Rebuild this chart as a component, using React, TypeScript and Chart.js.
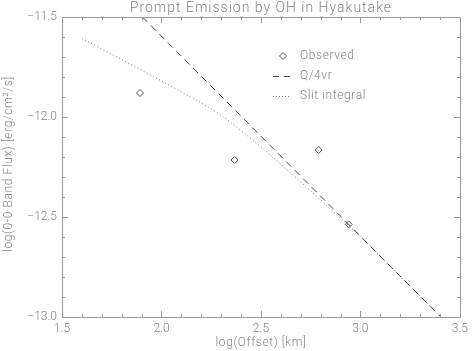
import React, { useEffect, useRef } from "react";
import { Chart, registerables } from "chart.js";

Chart.register(...registerables);

const observedX = [1.892, 2.367, 2.79, 2.941];
const observedY = [-11.88, -12.215, -12.165, -12.537];

const q4vrX = [1.904, 3.404];
const q4vrY = [-11.5, -13.0];

const slitX = [1.6, 1.7, 1.8, 1.9, 2.0, 2.1, 2.2, 2.3, 2.4, 2.5, 2.6, 2.7, 2.8, 2.9, 3.0, 3.2, 3.4];
const slitY = [-11.607, -11.66, -11.713, -11.766, -11.82, -11.874, -11.93, -11.992, -12.068, -12.15, -12.236, -12.325, -12.415, -12.506, -12.598, -12.797, -12.996];

const xMajorTicks = [1.5, 2.0, 2.5, 3.0, 3.5];
const yMajorTicks = [-11.5, -12.0, -12.5, -13.0];

const TITLE = "Prompt Emission by OH in Hyakutake";
const X_LABEL = "log(Offset) [km]";
const Y_LABEL = "log(0-0 Band Flux) [erg/cm\u00b2/s]";
const LEGEND_LABELS = ["Observed", "Q/4vr", "Slit integral"];

const FONT = "Roboto, 'Liberation Sans', Arial, sans-serif";
const TEXT_COLOR = "#858585";
const AXIS_COLOR = "#9a9a9a";

const toPts = (xs: number[], ys: number[]) => xs.map((x, i) => ({ x, y: ys[i] }));

const decorPlugin = {
  id: "decor",
  afterDraw(chart: any) {
    const ctx = chart.ctx as any;
    const { left, right, top, bottom } = chart.chartArea;
    const xs = chart.scales.x;
    const ys = chart.scales.y;
    ctx.save();
    // frame
    ctx.strokeStyle = AXIS_COLOR;
    ctx.lineWidth = 1;
    ctx.strokeRect(Math.round(left) + 0.5, Math.round(top) + 0.5, Math.round(right - left), Math.round(bottom - top));
    // ticks
    ctx.beginPath();
    for (let i = 0; i <= 20; i++) {
      const v = 1.5 + i * 0.1;
      const px = Math.round(xs.getPixelForValue(v)) + 0.5;
      const len = i % 5 === 0 ? 6 : 3;
      ctx.moveTo(px, bottom);
      ctx.lineTo(px, bottom - len);
      ctx.moveTo(px, top);
      ctx.lineTo(px, top + len);
    }
    for (let i = 0; i <= 15; i++) {
      const v = -11.5 - i * 0.1;
      const py = Math.round(ys.getPixelForValue(v)) + 0.5;
      const len = i % 5 === 0 ? 6 : 3;
      ctx.moveTo(left, py);
      ctx.lineTo(left + len, py);
      ctx.moveTo(right, py);
      ctx.lineTo(right - len, py);
    }
    ctx.stroke();

    // title
    ctx.fillStyle = TEXT_COLOR;
    ctx.letterSpacing = "1px";
    ctx.font = `300 14px ${FONT}`;
    ctx.textAlign = "center";
    ctx.textBaseline = "middle";
    ctx.fillText(TITLE, (left + right) / 2, 8);
    // x label
    ctx.letterSpacing = "0.6px";
    ctx.font = `300 12px ${FONT}`;
    ctx.fillText(X_LABEL, (left + right) / 2, 343);
    // y label
    ctx.save();
    ctx.translate(9, 164);
    ctx.rotate(-Math.PI / 2);
    ctx.fillText(Y_LABEL, 0, 0);
    ctx.restore();

    // legend
    const lx = 273;
    const lx2 = 291;
    const tx = 300;
    const rows = [56, 76, 96];
    ctx.textAlign = "left";
    const ds = chart.data.datasets;
    ctx.strokeStyle = ds[0].borderColor;
    ctx.lineWidth = 1;
    ctx.beginPath();
    const cx = 283, cy = rows[0], r = 3.5;
    ctx.moveTo(cx, cy - r);
    ctx.lineTo(cx + r, cy);
    ctx.lineTo(cx, cy + r);
    ctx.lineTo(cx - r, cy);
    ctx.closePath();
    ctx.stroke();
    ctx.strokeStyle = ds[1].borderColor;
    ctx.setLineDash([6, 5]);
    ctx.beginPath();
    ctx.moveTo(lx, rows[1] + 0.5);
    ctx.lineTo(lx2, rows[1] + 0.5);
    ctx.stroke();
    ctx.strokeStyle = ds[2].borderColor;
    ctx.setLineDash([1, 2]);
    ctx.beginPath();
    ctx.moveTo(lx, rows[2] + 0.5);
    ctx.lineTo(lx2, rows[2] + 0.5);
    ctx.stroke();
    ctx.setLineDash([]);
    ctx.fillStyle = TEXT_COLOR;
    LEGEND_LABELS.forEach((t, i) => ctx.fillText(t, tx, rows[i]));
    ctx.restore();
  },
};

export default function App() {
  const ref = useRef<HTMLCanvasElement | null>(null);
  useEffect(() => {
    document.body.style.margin = "0";
    const chart = new Chart(ref.current as HTMLCanvasElement, {
      type: "scatter",
      data: {
        datasets: [
          {
            label: LEGEND_LABELS[0],
            data: toPts(observedX, observedY),
            showLine: false,
            pointStyle: "rectRot",
            pointRadius: 3.5,
            borderColor: "#555555",
            backgroundColor: "rgba(0,0,0,0)",
            borderWidth: 1,
          },
          {
            label: LEGEND_LABELS[1],
            data: toPts(q4vrX, q4vrY),
            showLine: true,
            pointRadius: 0,
            borderColor: "#444444",
            borderWidth: 1,
            borderDash: [7, 5],
          },
          {
            label: LEGEND_LABELS[2],
            data: toPts(slitX, slitY),
            showLine: true,
            pointRadius: 0,
            borderColor: "#777777",
            borderWidth: 1,
            borderDash: [1, 2.5],
            cubicInterpolationMode: "monotone",
          },
        ],
      },
      options: {
        animation: false,
        responsive: false,
        maintainAspectRatio: false,
        layout: { padding: { top: 17, right: 10, left: 0, bottom: 0 } },
        plugins: { legend: { display: false }, title: { display: false }, tooltip: { enabled: false } },
        scales: {
          x: {
            type: "linear",
            min: 1.5,
            max: 3.5,
            afterFit: (s: any) => { s.height = 34; },
            afterBuildTicks: (s: any) => { s.ticks = xMajorTicks.map((v) => ({ value: v })); },
            grid: { display: false, drawTicks: false },
            border: { display: false },
            ticks: {
              padding: 5,
              color: TEXT_COLOR,
              font: { family: FONT, size: 12, weight: "300" },
              maxRotation: 0,
              callback: (v: any) => Number(v).toFixed(1),
            },
          },
          y: {
            type: "linear",
            min: -13.0,
            max: -11.5,
            afterFit: (s: any) => { s.width = 62; },
            afterBuildTicks: (s: any) => { s.ticks = yMajorTicks.map((v) => ({ value: v })); },
            grid: { display: false, drawTicks: false },
            border: { display: false },
            ticks: {
              padding: 5,
              color: TEXT_COLOR,
              font: { family: FONT, size: 12, weight: "300" },
              callback: (v: any) => Number(v).toFixed(1).replace("-", "\u2212"),
            },
          },
        },
      },
      plugins: [decorPlugin],
    } as any);
    return () => chart.destroy();
  }, []);
  return (
    <div style={{ position: "absolute", left: 0, top: 0, width: 473, height: 351 }}>
      <canvas ref={ref} width={473} height={351} style={{ width: 473, height: 351, display: "block" }} />
    </div>
  );
}
